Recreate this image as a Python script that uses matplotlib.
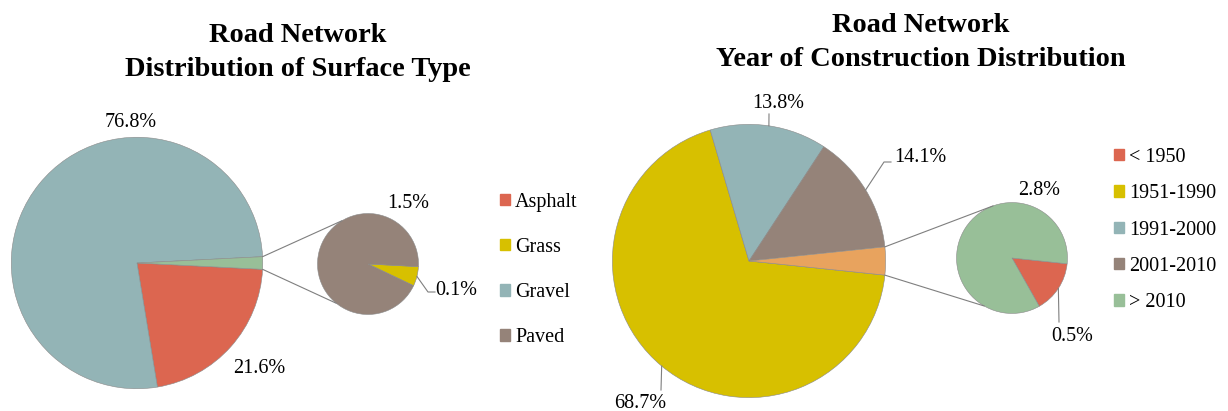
import math
import matplotlib.pyplot as plt
from matplotlib.patches import Patch, ConnectionPatch

W, H = 1228, 411

# left chart: surface type
surface_main = ['Asphalt', 'Gravel', 'Other']
surface_main_pct = [21.6, 76.8, 1.6]
surface_sub = ['Grass', 'Paved']
surface_sub_pct = [0.1, 1.5]
surface_legend = ['Asphalt', 'Grass', 'Gravel', 'Paved']

# right chart: year of construction
year_main = ['1951-1990', '1991-2000', '2001-2010', 'Other']
year_main_pct = [68.7, 13.8, 14.1, 3.3]
year_sub = ['< 1950', '> 2010']
year_sub_pct = [0.5, 2.8]
year_legend = ['< 1950', '1951-1990', '1991-2000', '2001-2010', '> 2010']

red = '#DC6650'
yellow = '#D7C000'
teal = '#93B4B6'
brown = '#958379'
green = '#98BF98'
orange = '#E8A35E'

cols = {'Asphalt': red, 'Grass': yellow, 'Gravel': teal, 'Paved': brown,
        '< 1950': red, '1951-1990': yellow, '1991-2000': teal,
        '2001-2010': brown, '> 2010': green}

plt.rcParams['font.family'] = ['Liberation Serif', 'DejaVu Serif']

fig = plt.figure(figsize=(W/100, H/100), dpi=100)
LBL = 14.5
TTL = 20.4


def pie_ax(cx, cy, r):
    ax = fig.add_axes([(cx-r)/W, 1-(cy+r)/H, 2*r/W, 2*r/H])
    return ax


def draw_pie(ax, vals, colors, start):
    ax.pie(vals, colors=colors, startangle=start, counterclock=False, radius=1,
           wedgeprops=dict(edgecolor='#8a8a8a', linewidth=0.4))
    ax.set_xlim(-1.01, 1.01)
    ax.set_ylim(-1.01, 1.01)
    ax.axis('off')


def txt(x, y, s, **kw):
    fig.text(x/W, 1-y/H, s, ha='center', va='center', fontsize=LBL, **kw)


def link(axa, ta, axb, tb):
    a = (math.cos(math.radians(ta)), math.sin(math.radians(ta)))
    b = (math.cos(math.radians(tb)), math.sin(math.radians(tb)))
    con = ConnectionPatch(xyA=a, coordsA=axa.transData, xyB=b, coordsB=axb.transData,
                          color='#7f7f7f', lw=0.8)
    fig.add_artist(con)


def leader(ax, theta, pts):
    x0 = math.cos(math.radians(theta))
    y0 = math.sin(math.radians(theta))
    disp = ax.transData.transform((x0, y0))
    xs = [disp[0]/W] + [p[0]/W for p in pts]
    ys = [disp[1]/H] + [1-p[1]/H for p in pts]
    fig.add_artist(plt.Line2D(xs, ys, color='#7f7f7f', lw=0.8, transform=fig.transFigure))


# ---------- left ----------
half = surface_main_pct[2]*3.6/2
ax1 = pie_ax(137, 263, 127)
draw_pie(ax1, surface_main_pct, [red, teal, green], -half)
ax2 = pie_ax(368, 264, 51)
draw_pie(ax2, surface_sub_pct, [cols[k] for k in surface_sub], -3)
link(ax1, half, ax2, 121)
link(ax1, -half, ax2, -129)

fig.text(298/W, 1-36/H, 'Road Network', ha='center', va='center', fontsize=TTL, fontweight='bold')
fig.text(298/W, 1-70/H, 'Distribution of Surface Type', ha='center', va='center', fontsize=TTL, fontweight='bold')

txt(131, 122, '76.8%')
txt(259, 368, '21.6%')
txt(408, 203, '1.5%')
txt(456, 290, '0.1%')
g_mid = -3 - surface_sub_pct[0]/sum(surface_sub_pct)*360/2
leader(ax2, g_mid, [(428, 292), (435, 292)])

fig.legend([Patch(color=cols[k]) for k in surface_legend], surface_legend,
           loc='center left', bbox_to_anchor=(482/W, 1-270/H), frameon=False,
           fontsize=LBL, handlelength=0.5, handleheight=0.5, handletextpad=0.25,
           labelspacing=1.3)

# ---------- right ----------
half2 = year_main_pct[3]*3.6/2
ax3 = pie_ax(749, 261, 138)
draw_pie(ax3, year_main_pct, [yellow, teal, brown, orange], -half2)
ax4 = pie_ax(1012, 258, 56)
draw_pie(ax4, year_sub_pct, [cols[k] for k in year_sub], -6)
link(ax3, half2, ax4, 110)
link(ax3, -half2, ax4, -120)

fig.text(921/W, 1-25/H, 'Road Network', ha='center', va='center', fontsize=TTL, fontweight='bold')
fig.text(921/W, 1-59/H, 'Year of Construction Distribution', ha='center', va='center', fontsize=TTL, fontweight='bold')

tot = sum(year_main_pct)
a0 = -half2
mids = []
for v in year_main_pct:
    a1 = a0 - v/tot*360
    mids.append((a0+a1)/2)
    a0 = a1

txt(640, 403, '68.7%')
leader(ax3, mids[0], [(661, 390)])
txt(778, 103, '13.8%')
leader(ax3, mids[1], [(769, 114)])
txt(920, 158, '14.1%')
leader(ax3, mids[2], [(884, 162), (891, 162)])
txt(1039, 190, '2.8%')
txt(1072, 336, '0.5%')
r_mid = -6 - year_sub_pct[0]/sum(year_sub_pct)*360/2
leader(ax4, r_mid, [(1059, 322)])

fig.legend([Patch(color=cols[k]) for k in year_legend], year_legend,
           loc='center left', bbox_to_anchor=(1096/W, 1-230/H), frameon=False,
           fontsize=LBL, handlelength=0.5, handleheight=0.5, handletextpad=0.25,
           labelspacing=0.86)

fig.savefig('out.png', dpi=100, facecolor='white')
